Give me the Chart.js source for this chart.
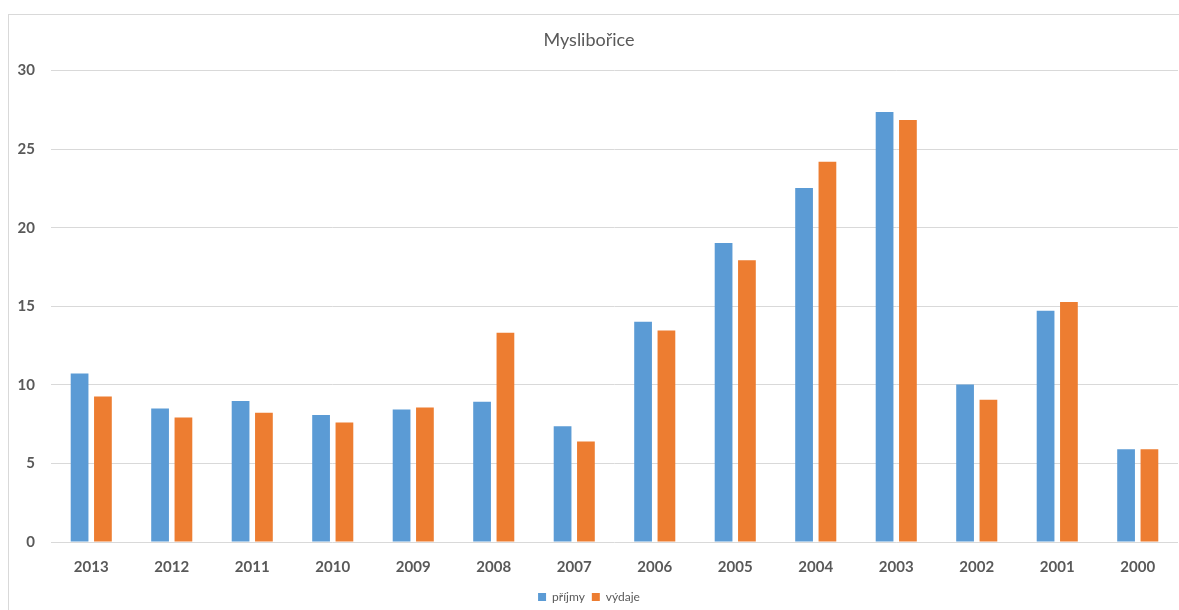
<!DOCTYPE html>
<html lang="cs">
<head>
<meta charset="utf-8">
<title>Myslibořice</title>
<script src="https://cdn.jsdelivr.net/npm/chart.js@4/dist/chart.umd.min.js"></script>
<style>
    html, body { margin: 0; padding: 0; background: #fff; overflow: hidden; }
    #wrap { position: relative; width: 1179px; height: 610px; overflow: hidden; }
    #frame {
        position: absolute; left: 8px; top: 14px; width: 1300px; height: 700px;
        border: 1px solid #d9d9d9; box-sizing: border-box;
    }
    #chart { position: absolute; left: 0; top: 0; }
</style>
</head>
<body>
<div id="wrap">
    <div id="frame"></div>
    <canvas id="chart" width="1179" height="613"></canvas>
</div>
<script>
    'use strict'

    // roky a hodnoty (mil. Kč)
    const years = ['2013', '2012', '2011', '2010', '2009', '2008', '2007',
        '2006', '2005', '2004', '2003', '2002', '2001', '2000'];
    const prijmy = [10.72, 8.49, 8.98, 8.09, 8.43, 8.92, 7.37,
        14.01, 19.03, 22.53, 27.37, 10.02, 14.71, 5.90];
    const vydaje = [9.26, 7.92, 8.22, 7.60, 8.56, 13.31, 6.39,
        13.46, 17.93, 24.20, 26.86, 9.06, 15.28, 5.90];
    const yTicks = [0, 5, 10, 15, 20, 25, 30];

    const textColor = '#595959';
    const gridColor = '#d9d9d9';
    const font = "Lato, 'Open Sans', sans-serif";

    let config = {
        type: 'bar',
        data: {
            labels: years,
            datasets: [{
                label: 'příjmy',
                data: prijmy,
                backgroundColor: '#5b9bd5',
                categoryPercentage: 0.58,
                barPercentage: 0.76,
            }, {
                label: 'výdaje',
                data: vydaje,
                backgroundColor: '#ed7d31',
                categoryPercentage: 0.58,
                barPercentage: 0.76,
            }]
        },
        options: {
            responsive: false,
            animation: false,
            devicePixelRatio: 1,
            layout: {
                padding: {left: 0, right: 1, top: 14, bottom: 0}
            },
            plugins: {
                title: {
                    display: true,
                    text: 'Myslibořice',
                    color: textColor,
                    font: {family: font, size: 18, weight: 'normal'},
                    padding: {top: 15, bottom: 20}
                },
                legend: {
                    position: 'bottom',
                    labels: {
                        color: textColor,
                        font: {family: font, size: 12},
                        boxWidth: 8,
                        boxHeight: 8,
                        padding: 7
                    }
                },
                tooltip: {enabled: false}
            },
            scales: {
                x: {
                    grid: {display: false, drawTicks: false},
                    border: {display: false},
                    ticks: {
                        color: textColor,
                        font: {family: font, size: 15, weight: 'bold'},
                        padding: 16,
                        maxRotation: 0
                    },
                    afterFit: (scale) => { scale.height = 42; }
                },
                y: {
                    min: 0,
                    max: 30,
                    grid: {color: gridColor, lineWidth: 1, drawTicks: false},
                    border: {display: false},
                    afterBuildTicks: (scale) => {
                        scale.ticks = yTicks.map(v => ({value: v}));
                    },
                    ticks: {
                        color: textColor,
                        font: {family: font, size: 15, weight: 'bold'},
                        padding: 16
                    },
                    afterFit: (scale) => { scale.width = 51; }
                }
            }
        }
    };

    new Chart(document.getElementById('chart'), config);
</script>
</body>
</html>
